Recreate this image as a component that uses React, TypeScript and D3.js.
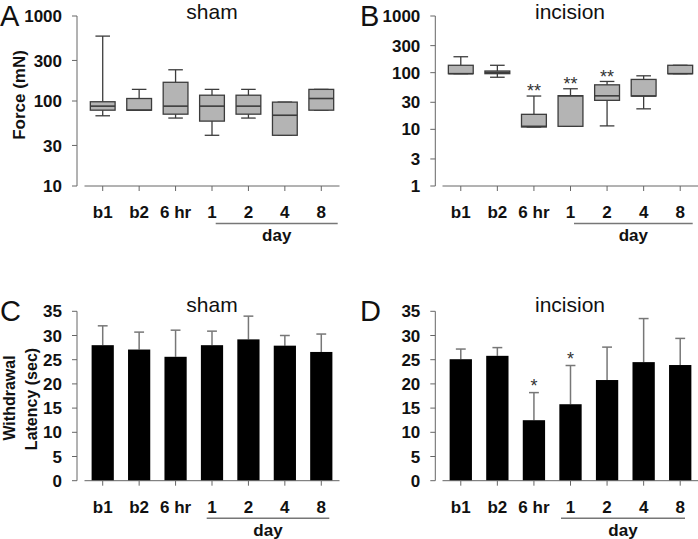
import React from "react";
import * as d3 from "d3";

const categories = ["b1", "b2", "6 hr", "1", "2", "4", "8"];

// Panel A: sham, von Frey force (mN) box plots
const shamForceMin = [67, 78, 63, 39.5, 63, 39.5, 78];
const shamForceQ1 = [78, 78, 70, 58, 70, 39.5, 78];
const shamForceMedian = [87, 78, 87, 87, 87, 68, 107];
const shamForceQ3 = [98, 107, 166, 117, 117, 97, 137];
const shamForceMax = [580, 137, 233, 137, 137, 97, 137];

// Panel B: incision, force (mN)
const incisionForceMin = [96, 83, 11, 11.3, 11.5, 23, 96];
const incisionForceQ1 = [96, 96, 11, 11.3, 32.5, 38.7, 96];
const incisionForceMedian = [96, 101, 11.3, 39, 39, 38.7, 96];
const incisionForceQ3 = [135, 107, 18.4, 39.2, 61, 76, 135];
const incisionForceMax = [191, 135, 38.7, 52, 70, 88, 135];
const incisionForceSig = ["", "", "**", "**", "**", "", ""];

// Panel C: sham, withdrawal latency (sec)
const shamLatencyMean = [28.0, 27.1, 25.6, 28.0, 29.2, 27.9, 26.6];
const shamLatencyErr = [4.0, 3.6, 5.5, 2.9, 4.8, 2.1, 3.7];

// Panel D: incision, withdrawal latency (sec)
const incisionLatencyMean = [25.1, 25.8, 12.5, 15.8, 20.8, 24.5, 23.9];
const incisionLatencyErr = [2.1, 1.7, 5.7, 8.0, 6.8, 9.0, 5.5];
const incisionLatencySig = ["", "", "*", "*", "", "", ""];

const forceTicksA = [10, 30, 100, 300, 1000];
const forceTicksB = [1, 3, 10, 30, 100, 300, 1000];
const latencyTicks = [0, 5, 10, 15, 20, 25, 30, 35];
const dayLabel = "day";

const FONT = "'Liberation Sans', Arial, Helvetica, sans-serif";
const AXIS = "#666";
const BOXFILL = "#b4b4b4";
const BOXSTROKE = "#3c3c3c";
const ERR = "#777";
const TICKFS = 17;

type Layout = {
  yAxisX: number;
  yTop: number;
  yBottom: number;
  xRange: [number, number];
  dayLine: [number, number];
  titleX: number;
  titleY: number;
  title: string;
  letter: string;
  letterX: number;
};

function Frame({ L, y, ticks }: { L: Layout; y: any; ticks: number[] }) {
  const x = d3.scaleBand<string>().domain(categories).range(L.xRange);
  const ax = L.yAxisX;
  return (
    <g fontFamily={FONT}>
      <line x1={ax} x2={ax} y1={L.yTop} y2={L.yBottom} stroke={AXIS} strokeWidth={1} />
      {ticks.map((t) => (
        <g key={t}>
          <line x1={ax - 5} x2={ax} y1={y(t)} y2={y(t)} stroke={AXIS} strokeWidth={1} />
          <text x={ax - 15} y={y(t)} dy="0.36em" textAnchor="end" fontSize={TICKFS} fontWeight="bold" fill="#111">
            {t}
          </text>
        </g>
      ))}
      <line x1={L.xRange[0]} x2={L.xRange[1]} y1={L.yBottom} y2={L.yBottom} stroke={AXIS} strokeWidth={1} />
      {categories.map((c) => {
        const cx = (x(c) as number) + x.bandwidth() / 2;
        return (
          <g key={c}>
            <line x1={cx} x2={cx} y1={L.yBottom} y2={L.yBottom + 5} stroke={AXIS} strokeWidth={1} />
            <text x={cx} y={L.yBottom + 32} textAnchor="middle" fontSize={TICKFS} fontWeight="bold" fill="#111">
              {c}
            </text>
          </g>
        );
      })}
      <line x1={L.dayLine[0]} x2={L.dayLine[1]} y1={L.yBottom + 37.5} y2={L.yBottom + 37.5} stroke="#777" strokeWidth={1.5} />
      <text x={(L.dayLine[0] + L.dayLine[1]) / 2} y={L.yBottom + 55} textAnchor="middle" fontSize={TICKFS} fontWeight="bold" fill="#111">
        {dayLabel}
      </text>
      <text x={L.titleX} y={L.titleY} textAnchor="middle" fontSize={21} fill="#111">
        {L.title}
      </text>
      <text x={L.letterX} y={L.yTop + 10} fontSize={29} fill="#111">
        {L.letter}
      </text>
    </g>
  );
}

function BoxPanel({
  L, ticks, domain, mins, q1s, meds, q3s, maxs, sig,
}: {
  L: Layout; ticks: number[]; domain: [number, number];
  mins: number[]; q1s: number[]; meds: number[]; q3s: number[]; maxs: number[]; sig?: string[];
}) {
  const x = d3.scaleBand<string>().domain(categories).range(L.xRange);
  const y = d3.scaleLog().domain(domain).range([L.yBottom, L.yTop]);
  const bw = x.step() * 0.68;
  const cw = x.step() * 0.4;
  return (
    <g>
      <Frame L={L} y={y} ticks={ticks} />
      {categories.map((c, i) => {
        const cx = (x(c) as number) + x.bandwidth() / 2;
        return (
          <g key={c} stroke={BOXSTROKE} strokeWidth={1.3}>
            <line x1={cx} x2={cx} y1={y(maxs[i])} y2={y(q3s[i])} />
            <line x1={cx} x2={cx} y1={y(mins[i])} y2={y(q1s[i])} />
            <line x1={cx - cw / 2} x2={cx + cw / 2} y1={y(maxs[i])} y2={y(maxs[i])} />
            <line x1={cx - cw / 2} x2={cx + cw / 2} y1={y(mins[i])} y2={y(mins[i])} />
            <rect x={cx - bw / 2} width={bw} y={y(q3s[i])} height={Math.max(1, y(q1s[i]) - y(q3s[i]))} fill={BOXFILL} />
            <line x1={cx - bw / 2} x2={cx + bw / 2} y1={y(meds[i])} y2={y(meds[i])} strokeWidth={1.6} />
            {sig && sig[i] ? (
              <text x={cx} y={y(maxs[i]) + 2} dy="-0.05em" textAnchor="middle" fontSize={18} fill="#333" stroke="none" fontFamily={FONT}>
                {sig[i]}
              </text>
            ) : null}
          </g>
        );
      })}
    </g>
  );
}

function BarPanel({
  L, means, errs, sig,
}: { L: Layout; means: number[]; errs: number[]; sig?: string[] }) {
  const x = d3.scaleBand<string>().domain(categories).range(L.xRange);
  const y = d3.scaleLinear().domain([0, 35]).range([L.yBottom, L.yTop]);
  const bw = x.step() * 0.61;
  const cw = x.step() * 0.27;
  return (
    <g>
      {categories.map((c, i) => {
        const cx = (x(c) as number) + x.bandwidth() / 2;
        const top = y(means[i] + errs[i]);
        return (
          <g key={c}>
            <line x1={cx} x2={cx} y1={top} y2={y(means[i])} stroke={ERR} strokeWidth={1.5} />
            <line x1={cx - cw / 2} x2={cx + cw / 2} y1={top} y2={top} stroke={ERR} strokeWidth={1.5} />
            <rect x={cx - bw / 2} width={bw} y={y(means[i])} height={y(0) - y(means[i])} fill="#000" />
            {sig && sig[i] ? (
              <text x={cx} y={top - 1} textAnchor="middle" fontSize={18} fill="#333" fontFamily={FONT}>
                {sig[i]}
              </text>
            ) : null}
          </g>
        );
      })}
      <Frame L={L} y={y} ticks={latencyTicks} />
    </g>
  );
}

const layoutA: Layout = {
  yAxisX: 77, yTop: 16, yBottom: 186, xRange: [84.5, 339.5], dayLine: [215.7, 337.7],
  titleX: 212, titleY: 19, title: "sham", letter: "A", letterX: 0,
};
const layoutB: Layout = {
  yAxisX: 435.3, yTop: 16, yBottom: 186, xRange: [442.5, 698.5], dayLine: [574, 692.7],
  titleX: 570, titleY: 19, title: "incision", letter: "B", letterX: 360,
};
const layoutC: Layout = {
  yAxisX: 77, yTop: 311.3, yBottom: 480.7, xRange: [84.5, 339.5], dayLine: [206.7, 329.3],
  titleX: 212, titleY: 311.5, title: "sham", letter: "C", letterX: 0,
};
const layoutD: Layout = {
  yAxisX: 435.3, yTop: 311.3, yBottom: 480.7, xRange: [442.5, 698.5], dayLine: [561, 685],
  titleX: 570, titleY: 311.5, title: "incision", letter: "D", letterX: 360,
};

export default function App() {
  return (
    <svg
      width={698}
      height={539}
      style={{ position: "absolute", left: 0, top: 0, background: "#fff" }}
      fontFamily={FONT}
    >
      <rect width={698} height={539} fill="#fff" />
      <BoxPanel L={layoutA} ticks={forceTicksA} domain={[10, 1000]}
        mins={shamForceMin} q1s={shamForceQ1} meds={shamForceMedian} q3s={shamForceQ3} maxs={shamForceMax} />
      <BoxPanel L={layoutB} ticks={forceTicksB} domain={[1, 1000]}
        mins={incisionForceMin} q1s={incisionForceQ1} meds={incisionForceMedian} q3s={incisionForceQ3} maxs={incisionForceMax}
        sig={incisionForceSig} />
      <BarPanel L={layoutC} means={shamLatencyMean} errs={shamLatencyErr} />
      <BarPanel L={layoutD} means={incisionLatencyMean} errs={incisionLatencyErr} sig={incisionLatencySig} />
      <text transform="translate(25,95) rotate(-90)" textAnchor="middle" fontSize={17} fontWeight="bold" fill="#111">
        Force (mN)
      </text>
      <text transform="translate(15,398) rotate(-90)" textAnchor="middle" fontSize={16} fontWeight="bold" fill="#111">
        Withdrawal
      </text>
      <text transform="translate(37,399) rotate(-90)" textAnchor="middle" fontSize={16} fontWeight="bold" fill="#111">
        Latency (sec)
      </text>
    </svg>
  );
}
